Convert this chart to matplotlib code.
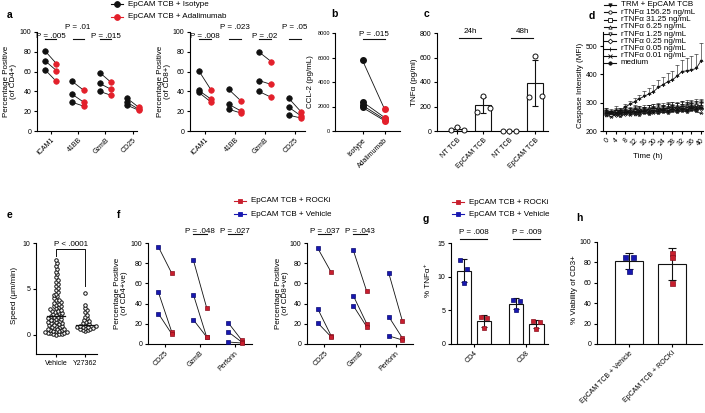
import numpy as np
import matplotlib
matplotlib.use("Agg")
import matplotlib.pyplot as plt
from matplotlib.lines import Line2D

plt.rcParams['font.family'] = ['Liberation Sans', 'DejaVu Sans']

# ---------------- data ----------------
# a: paired T-cell markers, Isotype vs Adalimumab
a_cats = ['ICAM1', '41BB', 'GzmB', 'CD25']
a_cd4_iso = [[81, 71, 62], [50, 37, 29], [59, 48, 40], [33, 29, 26]]
a_cd4_ada = [[68, 61, 50], [41, 29, 25], [49, 42, 36], [24, 22, 21]]
a_cd8_iso = [[61, 41, 39], [42, 27, 22], [80, 51, 40], [33, 24, 16]]
a_cd8_ada = [[41, 32, 29], [30, 20, 18], [70, 47, 34], [19, 15, 13]]
a_cd4_p = ['P = .005', 'P = .01', 'P = .015', None]
a_cd8_p = ['P = .008', 'P = .023', 'P = .02', 'P = .05']

# b: CCL-2
b_cats = ['Isotype', 'Adalimumab']
b_iso = [5760, 2380, 2100, 1920]
b_ada = [1780, 1100, 950, 840]

# c: TNFa release
c_cats = ['NT TCB', 'EpCAM TCB', 'NT TCB', 'EpCAM TCB']
c_points = [[10, 35, 5], [157, 284, 189], [0, 0, 0], [278, 612, 286]]
c_groups = ['24h', '48h']

# d: caspase kinetics
d_time = [0, 2, 4, 6, 8, 10, 12, 14, 16, 18, 20, 22, 24, 26, 28, 30, 32, 34, 36, 38, 40]
d_trm = [265, 264, 267, 271, 285, 294, 304, 314, 322, 331, 339, 354, 364, 374, 381, 394, 410, 413, 416, 421, 447]
d_trm_err = [8, 8, 9, 10, 10, 12, 14, 15, 18, 20, 22, 25, 28, 30, 32, 38, 42, 45, 48, 50, 65]
d_156 = [262, 260, 258, 262, 266, 268, 270, 267, 272, 275, 270, 274, 277, 279, 274, 281, 283, 278, 286, 282, 288]
d_31 = [268, 265, 262, 267, 271, 268, 273, 275, 270, 277, 279, 281, 276, 283, 285, 280, 287, 289, 284, 291, 286]
d_6 = [258, 255, 260, 257, 262, 266, 261, 266, 269, 264, 270, 268, 273, 270, 275, 271, 277, 274, 279, 275, 281]
d_1 = [266, 262, 269, 264, 266, 271, 268, 273, 270, 275, 272, 277, 274, 279, 276, 281, 278, 283, 280, 285, 282]
d_025 = [260, 257, 255, 258, 261, 262, 265, 261, 267, 264, 269, 266, 271, 268, 273, 270, 275, 272, 277, 274, 279]
d_005 = [271, 268, 273, 270, 275, 272, 277, 274, 279, 276, 281, 278, 283, 280, 286, 282, 287, 284, 290, 286, 292]
d_001 = [255, 251, 256, 253, 259, 256, 261, 258, 263, 260, 265, 262, 267, 264, 269, 266, 271, 268, 273, 270, 262]
d_medium = [264, 262, 265, 263, 267, 264, 268, 266, 271, 268, 272, 270, 275, 272, 277, 274, 279, 276, 281, 278, 283]
d_rtnf_err = [12, 10, 14, 11, 13, 12, 15, 13, 14, 16, 15, 17, 16, 18, 17, 19, 18, 20, 19, 21, 20]
d_labels = ['TRM + EpCAM TCB', 'rTNF\u03b1 156.25 ng/mL', 'rTNF\u03b1 31.25 ng/mL', 'rTNF\u03b1 6.25 ng/mL',
            'rTNF\u03b1 1.25 ng/mL', 'rTNF\u03b1 0.25 ng/mL', 'rTNF\u03b1 0.05 ng/mL', 'rTNF\u03b1 0.01 ng/mL', 'medium']

# e: speed
e_cats = ['Vehicle', 'Y27362']
e_vehicle = [0.05, 0.1, 0.12, 0.15, 0.2, 0.22, 0.25, 0.3, 0.33, 0.4, 0.42, 0.48, 0.5, 0.55, 0.62, 0.68,
             0.7, 0.78, 0.85, 0.9, 0.95, 1.0, 1.08, 1.12, 1.2, 1.28, 1.3, 1.38, 1.45, 1.5, 1.58, 1.65,
             1.7, 1.75, 1.82, 1.9, 1.95, 2.02, 2.1, 2.2, 2.25, 2.35, 2.4, 2.5, 2.6, 2.65, 2.75, 2.8,
             2.9, 3.0, 3.1, 3.2, 3.3, 3.4, 3.5, 3.6, 3.75, 3.85, 4.0, 4.2, 4.3, 4.5, 4.7, 4.9, 5.1,
             5.3, 5.5, 5.8, 6.0, 6.3, 6.6, 6.9, 7.2, 7.5, 7.8, 8.1]
e_y27 = [0.4, 0.5, 0.58, 0.65, 0.7, 0.75, 0.8, 0.84, 0.88, 0.92, 0.96, 1.0, 1.06, 1.15, 1.25,
         1.38, 1.5, 1.65, 1.8, 2.0, 2.2, 2.45, 2.7, 2.95, 3.3, 4.6]

# f: ROCKi paired
f_cats = ['CD25', 'GzmB', 'Perforin']
f_cd4_veh = [[96, 51, 30], [83, 49, 24], [21, 12, 2]]
f_cd4_rock = [[70, 12, 10], [36, 7, 7], [4, 2, 1]]
f_cd8_veh = [[95, 35, 21], [93, 48, 38], [70, 27, 8]]
f_cd8_rock = [[71, 8, 7], [52, 20, 17], [23, 6, 4]]
f_cd4_p = [None, 'P = .048', 'P = .027']
f_cd8_p = ['P = .037', 'P = .043', None]

# g: % TNFa+
g_cats = ['CD4', 'CD8']
g_veh = [[12.5, 11.1, 9.1], [6.5, 6.4, 5.1]]
g_rock = [[4.0, 3.9, 2.4], [3.4, 3.3, 2.3]]
g_p = ['P = .008', 'P = .009']

# h: viability
h_cats = ['EpCAM TCB + Vehicle', 'EpCAM TCB + ROCKi']
h_points = [[85.5, 85.5, 72], [89, 85, 60]]

# ---------------- layout helpers ----------------
W, H = 705, 413
fig = plt.figure(figsize=(W / 100, H / 100), dpi=100)

BLACK = '#111111'
RED = '#e3202b'
RED2 = '#c81e2d'
BLUE = '#1717b0'
FS_TICK = 5
FS_TXT = 5.8


def add_ax(x0, y0, x1, y1):
    return fig.add_axes([x0 / W, 1 - y1 / H, (x1 - x0) / W, (y1 - y0) / H])


def style(ax, fs=FS_TICK):
    for s in ['top', 'right']:
        ax.spines[s].set_visible(False)
    for s in ['left', 'bottom']:
        ax.spines[s].set_linewidth(0.8)
    ax.tick_params(labelsize=fs, length=2.5, width=0.8, pad=1.5)
    ax.set_facecolor('none')


def cat_ticks(ax, labels):
    ax.set_xticks(range(len(labels)))
    ax.set_xticklabels(labels, rotation=45, ha='right', rotation_mode='anchor')


def ftext(x, y, s, **kw):
    kw.setdefault('fontsize', FS_TXT)
    fig.text(x / W, 1 - y / H, s, **kw)


def letter(x, y, s):
    fig.text(x / W, 1 - y / H, s, fontsize=7.5, fontweight='bold', va='center', ha='left')


def ylab(x, y, s):
    ftext(x, y, s, rotation=90, ha='center', va='center', multialignment='center', linespacing=1.05)


def legend_row(x, y, color, marker, label, ms=3.8, mfc=None, mec=None):
    fy = 1 - y / H
    fig.add_artist(Line2D([(x - 6) / W, (x + 6) / W], [fy, fy], color=color, lw=0.8,
                          transform=fig.transFigure))
    fig.add_artist(Line2D([x / W], [fy], marker=marker, ms=ms, color=color,
                          mfc=mfc if mfc else color, mec=mec if mec else color, mew=0.6,
                          transform=fig.transFigure))
    ftext(x + 11, y, label, va='center', ha='left')


def p_mark(ax, x0, x1, yl, yt, label):
    ax.plot([x0, x1], [yl, yl], color=BLACK, lw=0.8, clip_on=False)
    ax.text((x0 + x1) / 2, yt, label, ha='center', va='baseline', fontsize=FS_TXT)


def paired(ax, left, right, cl, cr, marker, ms, off, mec_l, mec_r):
    for i, (ls, rs) in enumerate(zip(left, right)):
        for a, b in zip(ls, rs):
            ax.plot([i - off, i + off], [a, b], color=BLACK, lw=0.6, zorder=2)
        ax.plot([i - off] * len(ls), ls, ls='none', marker=marker, ms=ms, mfc=cl, mec=mec_l,
                mew=0.5, zorder=3, clip_on=False)
        ax.plot([i + off] * len(rs), rs, ls='none', marker=marker, ms=ms, mfc=cr, mec=mec_r,
                mew=0.5, zorder=3, clip_on=False)


# ---------------- panel a ----------------
letter(7, 15, 'a')
legend_row(117, 4, BLACK, 'o', 'EpCAM TCB + Isotype', ms=4.2)
legend_row(117, 17, RED, 'o', 'EpCAM TCB + Adalimumab', ms=4.2)

for box, iso, ada, pv, lab, lx in [((37, 32, 137, 131), a_cd4_iso, a_cd4_ada, a_cd4_p, 'Percentage Positive\n(of CD4+)', 10),
                                   ((190, 32, 305, 131), a_cd8_iso, a_cd8_ada, a_cd8_p, 'Percentage Positive\n(of CD8+)', 164)]:
    ax = add_ax(*box)
    style(ax)
    ax.set_ylim(0, 100)
    ax.set_xlim(-0.5, 3.15 if box[0] < 100 else 3.33)
    ax.set_yticks([0, 20, 40, 60, 80, 100])
    cat_ticks(ax, a_cats)
    paired(ax, iso, ada, BLACK, RED, 'o', 4.0, 0.21, BLACK, RED)
    for i, p in enumerate(pv):
        if p:
            yt = 103.3 if i % 2 else 94.2
            p_mark(ax, i - 0.2, i + 0.2, 93, yt, p)
    ylab(lx, 81, lab)

# ---------------- panel b ----------------
letter(331, 14, 'b')
ax = add_ax(335, 33, 400, 131)
style(ax, fs=4.0)
ax.set_ylim(0, 8000)
ax.set_xlim(-1.25, 1.7)
ax.set_yticks([0, 2000, 4000, 6000, 8000])
cat_ticks(ax, b_cats)
ax.tick_params(axis='x', labelsize=FS_TICK)
ax.tick_params(axis='y', pad=1)
for a, b in zip(b_iso, b_ada):
    ax.plot([0, 1], [a, b], color=BLACK, lw=0.6, zorder=2)
ax.plot([0] * len(b_iso), b_iso, ls='none', marker='o', ms=4.0, color=BLACK, zorder=3, clip_on=False)
ax.plot([1] * len(b_ada), b_ada, ls='none', marker='o', ms=4.0, color=RED, zorder=3, clip_on=False)
p_mark(ax, 0, 1, 7490, 7755, 'P = .015')
ylab(311, 82, 'CCL-2 (pg/mL)')

# ---------------- panel c ----------------
letter(424, 14, 'c')
ax = add_ax(437, 33, 548, 131)
style(ax)
ax.set_ylim(0, 800)
ax.set_xlim(-0.77, 3.5)
ax.set_yticks([0, 200, 400, 600, 800])
cat_ticks(ax, c_cats)
for i, pts in enumerate(c_points):
    m = np.mean(pts)
    sd = np.std(pts, ddof=1)
    ax.bar(i, m, width=0.62, color='white', edgecolor=BLACK, lw=0.8, zorder=1)
    ax.errorbar(i, m, yerr=sd, color=BLACK, capsize=2.5, lw=0.8, capthick=0.8, zorder=2)
    ax.plot([i - 0.25, i, i + 0.25], pts, ls='none', marker='o', ms=3.6, mfc='white',
            mec=BLACK, mew=0.7, zorder=3, clip_on=False)
for j, g in enumerate(c_groups):
    p_mark(ax, 2 * j + 0.08, 2 * j + 0.92, 762, 802, g)
ylab(415, 82, 'TNF\u03b1 (pg/ml)')

# ---------------- panel d ----------------
letter(589, 16, 'd')
ax = add_ax(603, 32, 703, 131)
style(ax)
ax.set_ylim(200, 550)
ax.set_xlim(-1.3, 40.9)
ax.set_yticks([200, 300, 400, 500])
ax.set_xticks([0, 4, 8, 12, 16, 20, 24, 28, 32, 36, 40])
ax.set_xticklabels([str(t) for t in [0, 4, 8, 12, 16, 20, 24, 28, 32, 36, 40]], rotation=45,
                   ha='right', rotation_mode='anchor')
d_series = [(d_trm, d_trm_err, 'v', BLACK), (d_156, d_rtnf_err, 'o', 'white'), (d_31, d_rtnf_err, 's', 'white'),
            (d_6, d_rtnf_err, '^', 'white'), (d_1, d_rtnf_err, 'v', 'white'), (d_025, d_rtnf_err, 'D', 'white'),
            (d_005, d_rtnf_err, '+', BLACK), (d_001, d_rtnf_err, 'x', BLACK), (d_medium, d_rtnf_err, 'o', BLACK)]
for vals, err, mk, fc in d_series:
    ax.errorbar(d_time, vals, yerr=[np.zeros(len(err)), err], color=BLACK, lw=0.6, elinewidth=0.4,
                capsize=1.2, capthick=0.4, marker=mk, ms=2.0, mfc=fc, mec=BLACK, mew=0.4)
ylab(580, 85, 'Caspase Intensity (MFI)')
ftext(648, 157, 'Time (h)', ha='center', va='center')
for k, (lab, (_, _, mk, fc)) in enumerate(zip(d_labels, d_series)):
    legend_row(610, 5 + 7.25 * k, BLACK, mk, lab, ms=2.4, mfc=fc, mec=BLACK)

# ---------------- panel e ----------------
letter(7, 215, 'e')
ax = add_ax(36, 243, 97, 354)
style(ax)
ax.set_ylim(-2.07, 10)
ax.set_xlim(-0.69, 1.41)
ax.set_yticks([0, 5, 10])
ax.set_xticks([0, 1])
ax.set_xticklabels(e_cats)
px_y, px_x, dia = 9.2, 29.0, 2.8
for i, vals in enumerate([e_vehicle, e_y27]):
    placed = []
    xs, ys = [], []
    for v in sorted(vals):
        y = v * px_y
        k = 0
        while True:
            offs = [0.0] if k == 0 else [k * 0.4, -k * 0.4]
            ok = None
            for o in offs:
                if all((o - px) ** 2 + (y - py) ** 2 >= dia ** 2 for px, py in placed):
                    ok = o
                    break
            if ok is not None:
                break
            k += 1
        placed.append((ok, y))
        xs.append(i + ok / px_x)
        ys.append(v)
    ax.plot(xs, ys, ls='none', marker='o', ms=2.5, mfc='white', mec=BLACK, mew=0.7, zorder=3, clip_on=False)
    med = np.median(vals)
    ax.plot([i - 0.32, i + 0.32], [med, med], color=BLACK, lw=0.9, zorder=4)
ax.plot([0, 0, 1, 1], [8.6, 9.3, 9.3, 5.3], color=BLACK, lw=0.7, clip_on=False)
ax.text(0.5, 9.67, 'P < .0001', ha='center', va='baseline', fontsize=FS_TXT)
ylab(15, 295, 'Speed (\u03bcm/min)')

# ---------------- panel f ----------------
letter(117, 215, 'f')
legend_row(240, 201, RED2, 's', 'EpCAM TCB + ROCKi', ms=3.4)
legend_row(240, 214, BLUE, 's', 'EpCAM TCB + Vehicle', ms=3.4)
for box, veh, rock, pv, lab, lx in [((148, 243, 252, 344), f_cd4_veh, f_cd4_rock, f_cd4_p, 'Percentage Positive\n(of CD4+ve)', 121),
                                    ((307, 243, 413, 344), f_cd8_veh, f_cd8_rock, f_cd8_p, 'Percentage Positive\n(of CD8+ve)', 282)]:
    ax = add_ax(*box)
    style(ax)
    ax.set_ylim(0, 100)
    ax.set_xlim(-0.49, 2.49)
    ax.set_yticks([0, 20, 40, 60, 80, 100])
    cat_ticks(ax, f_cats)
    paired(ax, veh, rock, BLUE, RED2, 's', 3.4, 0.19, '#0a0a70', '#8a1020')
    for i, p in enumerate(pv):
        if p:
            p_mark(ax, i - 0.19, i + 0.19, 108.6, 110.2, p)
    ylab(lx, 293, lab)

# ---------------- panel g ----------------
letter(423, 219, 'g')
legend_row(458, 202, RED2, 's', 'EpCAM TCB + ROCKi', ms=3.4)
legend_row(458, 214, BLUE, 's', 'EpCAM TCB + Vehicle', ms=3.4)
ax = add_ax(451, 243, 548, 344)
style(ax)
ax.set_ylim(0, 15)
ax.set_xlim(-0.43, 1.41)
ax.set_yticks([0, 5, 10, 15])
cat_ticks(ax, g_cats)
for i in range(len(g_cats)):
    for off, pts, col, ec in [(-0.19, g_veh[i], BLUE, '#0a0a70'), (0.19, g_rock[i], RED2, '#8a1020')]:
        m = np.mean(pts)
        sd = np.std(pts, ddof=1)
        ax.bar(i + off, m, width=0.27, color='white', edgecolor=BLACK, lw=0.8, zorder=1)
        ax.errorbar(i + off, m, yerr=sd, color=BLACK, capsize=2.2, lw=0.8, capthick=0.8, zorder=2)
        ax.plot([i + off - 0.06, i + off + 0.06, i + off], pts, ls='none', marker='s', ms=3.4,
                mfc=col, mec=ec, mew=0.5, zorder=3)
    p_mark(ax, i - 0.25, i + 0.25, 15.6, 16.3, g_p[i])
ylab(428, 280, '% TNF\u03b1\u207a')

# ---------------- panel h ----------------
letter(576, 218, 'h')
ax = add_ax(597, 242, 702, 344)
style(ax)
ax.set_ylim(0, 100)
ax.set_xlim(-0.74, 1.7)
ax.set_yticks([0, 20, 40, 60, 80, 100])
cat_ticks(ax, h_cats)
for i, (pts, col, ec) in enumerate(zip(h_points, [BLUE, RED2], ['#0a0a70', '#8a1020'])):
    m = np.mean(pts)
    sd = np.std(pts, ddof=1)
    ax.bar(i, m, width=0.65, color='white', edgecolor=BLACK, lw=0.8, zorder=1)
    ax.errorbar(i, m, yerr=sd, color=BLACK, capsize=3, lw=0.8, capthick=0.8, zorder=2)
    offs = [-0.1, 0.1, 0] if i == 0 else [0, 0, 0]
    ax.plot([i + o for o in offs], pts, ls='none', marker='s', ms=3.6, mfc=col, mec=ec, mew=0.5, zorder=3)
ylab(574, 290, '% Viability of CD3+')

fig.savefig('out.png', dpi=100)
